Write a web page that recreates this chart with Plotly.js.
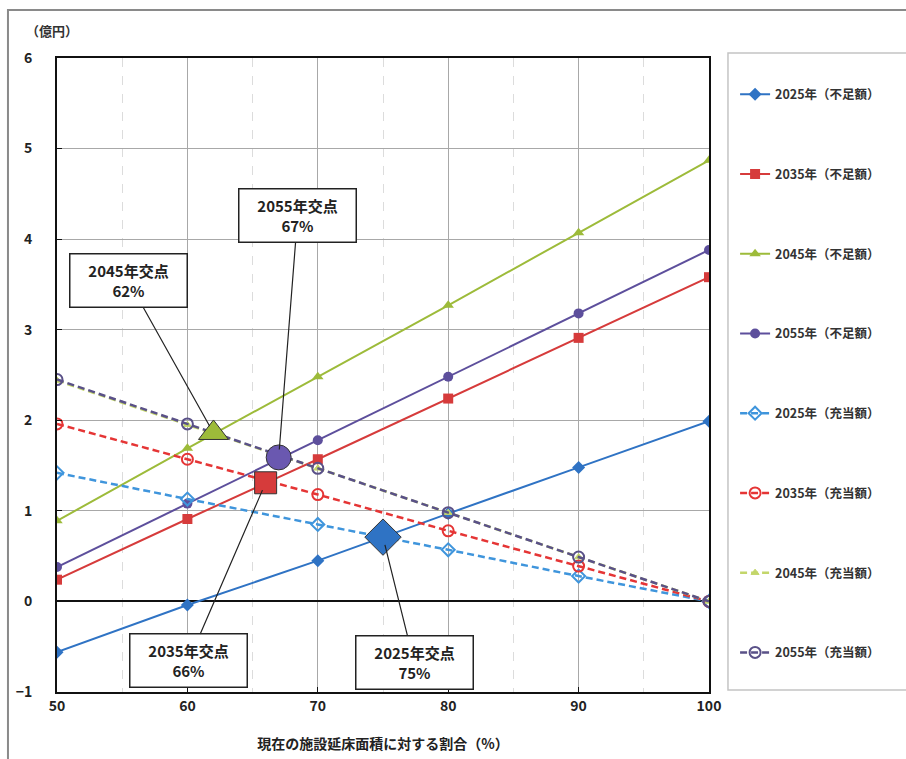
<!DOCTYPE html>
<html>
<head>
<meta charset="utf-8">
<script src="https://cdn.plot.ly/plotly-3.0.1.min.js"></script>
<style>
html,body{margin:0;padding:0;background:#fff;}
#chart{width:906px;height:759px;}
</style>
</head>
<body>
<div id="chart"></div>
<script>
// ---- data ----
var xVals = [50, 60, 70, 80, 90, 100];
var short2025 = [-0.56, -0.04, 0.45, 0.97, 1.48, 1.99];
var short2035 = [0.24, 0.91, 1.57, 2.24, 2.91, 3.58];
var short2045 = [0.89, 1.69, 2.48, 3.27, 4.07, 4.87];
var short2055 = [0.38, 1.08, 1.78, 2.48, 3.18, 3.88];
var fund2025 = [1.42, 1.13, 0.85, 0.57, 0.28, 0];
var fund2035 = [1.96, 1.57, 1.18, 0.78, 0.39, 0];
var fund2045 = [2.44, 1.95, 1.47, 0.98, 0.49, 0];
var fund2055 = [2.45, 1.96, 1.47, 0.98, 0.49, 0];
var seriesNames = ["2025年（不足額）", "2035年（不足額）", "2045年（不足額）", "2055年（不足額）",
                   "2025年（充当額）", "2035年（充当額）", "2045年（充当額）", "2055年（充当額）"];
var crossX = [75, 66, 62, 67];
var crossY = [0.71, 1.31, 1.86, 1.59];
var crossLabels = ["2025年交点<br>75%", "2035年交点<br>66%", "2045年交点<br>62%", "2055年交点<br>67%"];
var xTicks = [50, 60, 70, 80, 90, 100];
var yTicks = [-1, 0, 1, 2, 3, 4, 5, 6];

// ---- styles ----
var cBlue = "#2f73c4", cRed = "#d63b3b", cGreen = "#9dbb3a", cPurple = "#5d4f9c";
var cBlueD = "#3f95dc", cRedD = "#e53535", cGreenD = "#c3d66a", cPurpleD = "#5a5188";
var FONT = "'Noto Sans CJK JP', 'Noto Sans', sans-serif";

function solid(y, name, color, sym, size) {
  return {x: xVals, y: y, name: name, type: "scatter", mode: "lines+markers",
    line: {color: color, width: 2},
    marker: {color: color, symbol: sym, size: size},
    legendgroup: name};
}
function dashed(y, name, color, marker) {
  return {x: xVals, y: y, name: name, type: "scatter", mode: "lines+markers",
    line: {color: color, width: 2.5, dash: "7px,4px"},
    marker: marker,
    legendgroup: name};
}

var traces = [
  solid(short2025, seriesNames[0], cBlue, "diamond", 10),
  solid(short2035, seriesNames[1], cRed, "square", 10),
  solid(short2045, seriesNames[2], cGreen, "triangle-up", 10),
  solid(short2055, seriesNames[3], cPurple, "circle", 10),
  dashed(fund2025, seriesNames[4], cBlueD, {color: cBlueD, symbol: "diamond-open", size: 10, line: {color: cBlueD, width: 2}}),
  dashed(fund2035, seriesNames[5], cRedD, {color: cRedD, symbol: "circle-open", size: 11, line: {color: cRedD, width: 2}}),
  dashed(fund2045, seriesNames[6], cGreenD, {color: cGreenD, symbol: "triangle-up", size: 7, line: {color: cGreenD, width: 1}}),
  dashed(fund2055, seriesNames[7], cPurpleD, {color: cPurpleD, symbol: "circle-open", size: 11, line: {color: cPurpleD, width: 2}})
];

traces.push({
  x: crossX, y: crossY, type: "scatter", mode: "markers", showlegend: false, hoverinfo: "skip",
  marker: {
    symbol: ["diamond", "square", "triangle-up", "circle"],
    size: [28, 22, 26, 25],
    opacity: 1,
    color: [cBlue, cRed, cGreen, "#6a58b0"],
    line: {color: "#333", width: 1}
  }
});

// annotation offsets (pixels from the marker to the box centre)
var axOff = [31, -77, -85, 19];
var ayOff = [125, 178, -152, -242];
var annotations = crossLabels.map(function (t, i) {
  return {x: crossX[i], y: crossY[i], xref: "x", yref: "y", text: t,
    showarrow: true, arrowhead: 0, arrowwidth: 1.2, arrowcolor: "#222",
    ax: axOff[i], ay: ayOff[i], standoff: 8,
    bgcolor: "#fff", bordercolor: "#222", borderwidth: 1.5,
    width: 114, height: 50,
    font: {family: FONT, size: 15, color: "#222", weight: 700}};
});
annotations.push({xref: "paper", yref: "paper", x: -0.008, y: 1.044, xanchor: "center", yanchor: "middle",
  text: "（億円）", showarrow: false, font: {family: FONT, size: 13, color: "#333", weight: 700}});

var layout = {
  width: 906, height: 759,
  margin: {l: 57, r: 197, t: 58, b: 67},
  paper_bgcolor: "#fff", plot_bgcolor: "#fff",
  font: {family: FONT, color: "#222"},
  showlegend: true,
  legend: {x: 1.04, y: 0.966, xanchor: "left", yanchor: "top",
    bgcolor: "rgba(0,0,0,0)", borderwidth: 0,
    traceorder: "grouped", tracegroupgap: 60.5,
    font: {family: FONT, size: 12.5, color: "#333", weight: 700}},
  xaxis: {
    range: [50, 100], tickvals: xTicks, ticktext: xTicks.map(String),
    showgrid: true, gridcolor: "#a8a8a8", gridwidth: 1,
    minor: {dtick: 5, tick0: 50, showgrid: true, gridcolor: "#dcdcdc", griddash: "dash", gridwidth: 1},
    showline: true, linecolor: "#111", linewidth: 2, mirror: true,
    ticks: "inside", ticklen: 5, tickcolor: "#111",
    zeroline: false,
    tickfont: {family: FONT, size: 14, color: "#222", weight: 700},
    title: {text: "現在の施設延床面積に対する割合（%）", font: {family: FONT, size: 14, color: "#222", weight: 700}, standoff: 25}
  },
  yaxis: {
    range: [-1, 6], tickvals: yTicks, ticktext: yTicks.map(function (v) { return v < 0 ? "−" + (-v) : String(v); }),
    showgrid: true, gridcolor: "#a8a8a8", gridwidth: 1,
    showline: true, linecolor: "#111", linewidth: 2, mirror: true,
    ticks: "inside", ticklen: 5, tickcolor: "#111",
    zeroline: true, zerolinecolor: "#111", zerolinewidth: 2,
    ticklabelstandoff: 20,
    tickfont: {family: FONT, size: 14, color: "#222", weight: 700}
  },
  shapes: [
    {type: "rect", xref: "paper", yref: "paper", x0: -0.0752, x1: 1.5, y0: -0.3, y1: 1.0757,
      line: {color: "#8a8a8a", width: 2}, fillcolor: "rgba(0,0,0,0)"},
    {type: "rect", xref: "paper", yref: "paper", x0: 1.0291, x1: 1.32, y0: 0.0032, y1: 1.0079,
      line: {color: "#c4c4c4", width: 1.5}, fillcolor: "rgba(0,0,0,0)"}
  ],
  annotations: annotations
};

Plotly.newPlot("chart", traces, layout, {displayModeBar: false, staticPlot: true});
</script>
</body>
</html>
